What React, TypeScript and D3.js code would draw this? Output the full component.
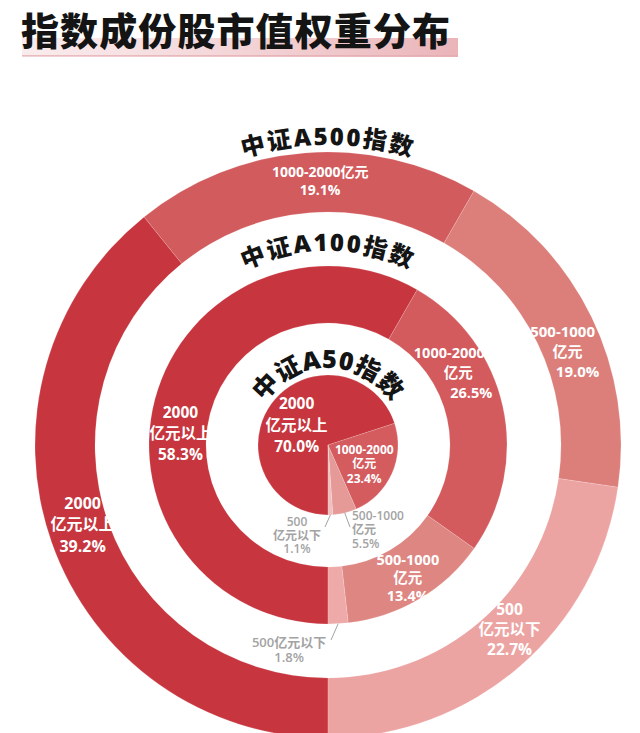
import React from 'react';
import * as d3 from 'd3';

// ---------- data ----------
const chartTitle = '指数成份股市值权重分布';
const categories = ['2000亿元以上', '1000-2000亿元', '500-1000亿元', '500亿元以下'];
const ringNames = ['中证A500指数', '中证A100指数', '中证A50指数'];
const a500Values = [39.2, 19.1, 19.0, 22.7];
const a100Values = [58.3, 26.5, 13.4, 1.8];
const a50Values = [70.0, 23.4, 5.5, 1.1];
const a500LabelLines = [['2000', '亿元以上'], ['1000-2000亿元'], ['500-1000', '亿元'], ['500', '亿元以下']];
const a100LabelLines = [['2000', '亿元以上'], ['1000-2000', '亿元'], ['500-1000', '亿元'], ['500亿元以下']];
const a50LabelLines = [['2000', '亿元以上'], ['1000-2000', '亿元'], ['500-1000', '亿元'], ['500', '亿元以下']];

// ---------- layout / style ----------
const W = 640;
const H = 733;
const cx = 328;
const cy = 445;
const FONT = '"Open Sans", "Noto Sans CJK SC", "Noto Sans", sans-serif';
const CJK_FONT = '"Noto Sans CJK SC", "Noto Sans", sans-serif';
const GRAY = '#a3a3a3';

type LabelCfg = {
  angle?: number;
  r?: number;
  size: number;
  lh: number;
  dxs?: number[];
  color?: string;
  anchor?: 'start' | 'middle';
  leader?: { r0: number; a1: number; r1: number };
  tdx?: number;
  tdy?: number;
  weight?: number;
};

type RingCfg = {
  name: string;
  values: number[];
  lines: string[][];
  inner: number;
  outer: number;
  colors: string[];
  titleR: number;
  titleSize: number;
  titleSpacing: number;
  labels: LabelCfg[];
};

const rings: RingCfg[] = [
  {
    name: ringNames[0],
    values: a500Values,
    lines: a500LabelLines,
    inner: 233,
    outer: 293,
    colors: ['#c7353e', '#d25b5d', '#dc7f7b', '#eca4a3'],
    titleR: 300,
    titleSize: 24,
    titleSpacing: 2,
    labels: [
      { angle: 252, r: 258, size: 16, lh: 21.5 },
      { angle: -1.7, r: 264, size: 14, lh: 18.5 },
      { angle: 68.8, r: 257, size: 15, lh: 20, dxs: [-5, 0, 10] },
      { angle: 135.5, r: 259, size: 15.5, lh: 20 },
    ],
  },
  {
    name: ringNames[1],
    values: a100Values,
    lines: a100LabelLines,
    inner: 122,
    outer: 179,
    colors: ['#c7353e', '#d35a5d', '#de8682', '#eeaaa9'],
    titleR: 194,
    titleSize: 24,
    titleSpacing: 2,
    labels: [
      { angle: 274.3, r: 148, size: 15.5, lh: 21 },
      { angle: 61, r: 149, size: 14.5, lh: 20, dxs: [-9, 0, 13] },
      { angle: 149, r: 155, size: 14.5, lh: 18 },
      { size: 13, lh: 15.5, color: GRAY, weight: 600, leader: { r0: 179, a1: 179.1, r1: 195 }, tdx: -42, tdy: 2 },
    ],
  },
  {
    name: ringNames[2],
    values: a50Values,
    lines: a50LabelLines,
    inner: 0,
    outer: 70,
    colors: ['#c7353e', '#d45c5f', '#e59a98', '#f1bfbe'],
    titleR: 77,
    titleSize: 25,
    titleSpacing: 0.5,
    labels: [
      { angle: 302, r: 37, size: 15.5, lh: 21.5 },
      { angle: 117.8, r: 41, size: 12, lh: 14.5 },
      { size: 12, lh: 14, color: GRAY, weight: 600, anchor: 'start', leader: { r0: 70, a1: 165, r1: 85 }, tdx: 2, tdy: -11 },
      { size: 12, lh: 13.5, color: GRAY, weight: 600, leader: { r0: 70, a1: 182.1, r1: 82 }, tdx: -28, tdy: -5 },
    ],
  },
];

function polar(aDeg: number, r: number): [number, number] {
  const a = (aDeg * Math.PI) / 180;
  return [cx + r * Math.sin(a), cy - r * Math.cos(a)];
}

const pie = d3
  .pie<number>()
  .sort(null)
  .startAngle(Math.PI)
  .endAngle(3 * Math.PI);

function titleArcPath(r: number) {
  const p = d3.path();
  p.moveTo(cx - r, cy);
  p.arc(cx, cy, r, Math.PI, 2 * Math.PI, false);
  return p.toString();
}

export default function App() {
  return (
    <svg
      width={W}
      height={H}
      viewBox={`0 0 ${W} ${H}`}
      style={{ position: 'absolute', left: 0, top: 0, background: '#ffffff' }}
      fontFamily={FONT}
    >
      <defs>
        <linearGradient id="titleBar" x1="0" x2="1" y1="0" y2="0">
          <stop offset="0%" stopColor="#f3d3d6" stopOpacity={0.45} />
          <stop offset="100%" stopColor="#e9b0b5" stopOpacity={0.95} />
        </linearGradient>
        {rings.map((ring, i) => (
          <path key={i} id={`titlePath${i}`} d={titleArcPath(ring.titleR)} fill="none" />
        ))}
      </defs>

      <rect x={0} y={0} width={W} height={H} fill="#ffffff" />

      {/* title */}
      <rect x={22} y={38} width={436} height={19} fill="url(#titleBar)" />
      <rect x={22} y={55} width={436} height={1.5} fill="#e3a9ae" opacity={0.7} />
      <text x={21} y={45} fontSize={38} fontWeight={900} fill="#141414" letterSpacing={1.1} fontFamily={CJK_FONT}>
        {chartTitle}
      </text>

      {/* rings */}
      {rings.map((ring, ri) => {
        const arcs = pie(ring.values);
        const arcGen = d3
          .arc<d3.PieArcDatum<number>>()
          .innerRadius(ring.inner)
          .outerRadius(ring.outer);
        return (
          <g key={`ring${ri}`}>
            {arcs.map((a, i) => (
              <path
                key={categories[i]}
                d={arcGen(a) || ''}
                transform={`translate(${cx},${cy})`}
                fill={ring.colors[i]}
                stroke="rgba(255,255,255,0.25)"
                strokeWidth={0.6}
              />
            ))}
          </g>
        );
      })}

      {/* slice labels */}
      {rings.map((ring, ri) => {
        const arcs = pie(ring.values);
        return (
          <g key={`labels${ri}`}>
            {arcs.map((a, i) => {
              const cfg = ring.labels[i];
              const lines = [...ring.lines[i], `${ring.values[i].toFixed(1)}%`];
              const color = cfg.color || '#ffffff';
              let x0: number;
              let y0: number;
              let leader: React.ReactNode = null;
              if (cfg.leader) {
                const mid = (((a.startAngle + a.endAngle) / 2) * 180) / Math.PI;
                const [sx, sy] = polar(mid, cfg.leader.r0);
                const [ex, ey] = polar(cfg.leader.a1, cfg.leader.r1);
                leader = <line x1={sx} y1={sy} x2={ex} y2={ey} stroke={GRAY} strokeWidth={1} />;
                x0 = ex + (cfg.tdx || 0);
                y0 = ey + (cfg.tdy || 0);
              } else {
                const [px, py] = polar(cfg.angle as number, cfg.r as number);
                x0 = px;
                y0 = py - ((lines.length - 1) * cfg.lh) / 2;
              }
              return (
                <g key={`l${ri}-${i}`}>
                  {leader}
                  <text
                    fontSize={cfg.size}
                    fontWeight={cfg.weight || 700}
                    fill={color}
                    textAnchor={cfg.anchor || 'middle'}
                  >
                    {lines.map((t, li) => (
                      <tspan key={li} x={x0 + (cfg.dxs ? cfg.dxs[li] || 0 : 0)} y={y0 + li * cfg.lh} dy="0.36em">
                        {t}
                      </tspan>
                    ))}
                  </text>
                </g>
              );
            })}
          </g>
        );
      })}

      {/* curved ring titles */}
      {rings.map((ring, i) => (
        <text
          key={`t${i}`}
          fontSize={ring.titleSize}
          fontWeight={800}
          fill="#141414"
          letterSpacing={ring.titleSpacing}
        >
          <textPath href={`#titlePath${i}`} startOffset="50%" textAnchor="middle">
            {ring.name}
          </textPath>
        </text>
      ))}
    </svg>
  );
}
